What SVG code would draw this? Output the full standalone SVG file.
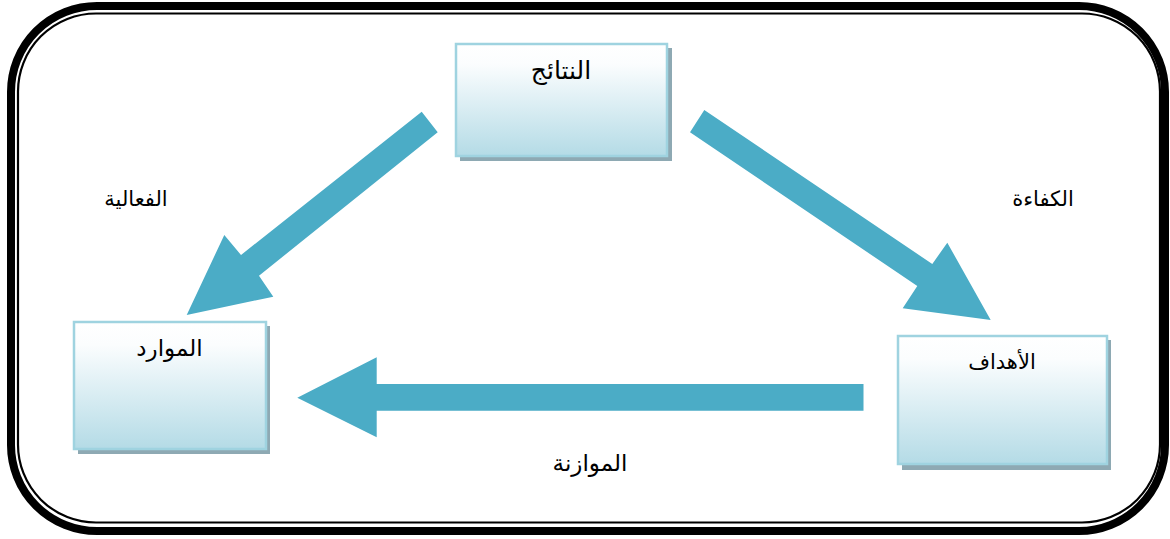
<svg xmlns="http://www.w3.org/2000/svg" width="1170" height="539" viewBox="0 0 1170 539">
<defs>
<linearGradient id="boxFill" x1="0" y1="0" x2="0" y2="1">
<stop offset="0" stop-color="#ffffff"/>
<stop offset="0.18" stop-color="#fbfdfe"/>
<stop offset="1" stop-color="#b4dbe6"/>
</linearGradient>
<style>
.frame-outer{fill:none;stroke:#000;stroke-width:8}
.frame-inner{fill:none;stroke:#000;stroke-width:2.2}
.box{fill:url(#boxFill);stroke:#9fd3e0;stroke-width:2.5}
.shadow{fill:#8ea9b3}
.arrow{fill:#4bacc6}
.lbl{font-family:"Liberation Sans","DejaVu Sans",sans-serif;fill:#000;text-anchor:middle}
</style>
</defs>
<rect width="1170" height="539" fill="#fff"/>
<g id="frame">
<rect class="frame-outer" x="11" y="6" width="1154" height="525" rx="86" ry="86"/>
<rect class="frame-inner" x="18" y="13.5" width="1142" height="509" rx="78" ry="78"/>
</g>
<g id="connectors">
<polygon class="arrow" points="421.7,111.7 437.7,132.3 259,275.7 273.3,296.7 186.7,315 224.3,235 241,255"/>
<polygon class="arrow" points="704.3,110 690,132.3 917.3,286 902.7,308.3 990.7,320 947.3,242.7 932.3,264"/>
<polygon class="arrow" points="863.5,384 863.5,410.7 376.7,410.7 376.7,437.3 297.3,397.7 376.7,357.3 376.7,384"/>
</g>
<g id="node-results">
<rect class="shadow" x="460" y="48" width="212" height="113"/>
<rect class="box" x="456" y="44" width="211" height="112"/>
<text class="lbl" x="561" y="79" font-size="25">النتائج</text>
</g>
<g id="node-resources">
<rect class="shadow" x="78" y="326" width="192" height="128"/>
<rect class="box" x="74" y="322" width="192" height="127"/>
<text class="lbl" x="169.5" y="356" font-size="23">الموارد</text>
</g>
<g id="node-goals">
<rect class="shadow" x="902" y="340" width="209" height="130"/>
<rect class="box" x="898" y="336" width="209" height="128"/>
<text class="lbl" x="1002" y="369" font-size="21">الأهداف</text>
</g>
<g id="labels">
<text class="lbl" x="136" y="206" font-size="21">الفعالية</text>
<text class="lbl" x="1043" y="206" font-size="21">الكفاءة</text>
<text class="lbl" x="590" y="471" font-size="23">الموازنة</text>
</g>
</svg>
